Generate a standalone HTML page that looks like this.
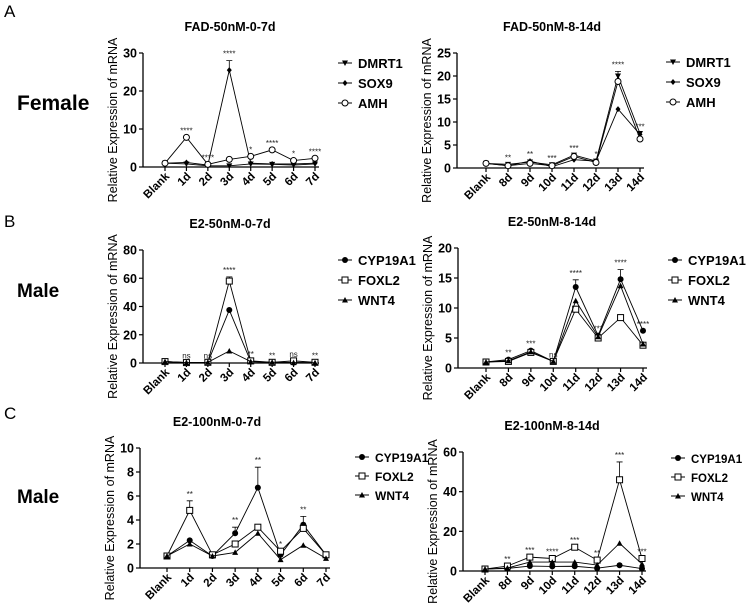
<!DOCTYPE html>
<html><head><meta charset="utf-8"><style>
body{margin:0;background:#fff;}
svg{display:block;font-family:"Liberation Sans",Arial,sans-serif;}
</style></head><body>
<svg id="fig" width="750" height="613" viewBox="0 0 750 613">
<text x="4" y="17" font-size="17">A</text>
<text x="17" y="110" font-size="21" font-weight="bold">Female</text>
<text x="4" y="227" font-size="17">B</text>
<text x="17" y="297" font-size="19" font-weight="bold">Male</text>
<text x="4" y="419" font-size="17">C</text>
<text x="17" y="503" font-size="19" font-weight="bold">Male</text>
</svg>
<script>
const catsA = ["Blank","1d","2d","3d","4d","5d","6d","7d"];
const catsB = ["Blank","8d","9d","10d","11d","12d","13d","14d"];
const genesF = ["DMRT1","SOX9","AMH"];
const genesM = ["CYP19A1","FOXL2","WNT4"];

const a1Ticks = [0,10,20,30];
const a1DMRT1 = [1,0.8,0.3,0.3,0.8,0.7,0.5,0.8];
const a1SOX9 = [1,1.2,0.5,25.5,1,0.8,0.8,1];
const a1AMH = [1,7.8,0.7,2,2.8,4.5,1.7,2.3];
const a1Err = [0,0,0,2.5,0,0,0,0];
const a1Stars = ["","****","****","****","*","****","*","****"];

const a2Ticks = [0,5,10,15,20,25];
const a2DMRT1 = [1,0.8,1.3,0.7,2.8,1.5,20,7.5];
const a2SOX9 = [1,0.5,1.5,0.3,1.8,1.5,12.8,7.3];
const a2AMH = [1,0.5,1,0.5,2.5,1.2,18.8,6.3];
const a2Err = [0,0,0,0,0,0,1,0];
const a2Stars = ["","**","**","***","***","*","****","***"];

const b1Ticks = [0,20,40,60,80];
const b1CYP = [1,0.3,0.5,37.5,1,0.5,0.3,0.2];
const b1FOXL2 = [1,0.3,0.5,58,1.5,0.5,1.5,0.5];
const b1WNT4 = [1,0.3,0.5,8.5,1,0.5,0.3,0.2];
const b1Err = [0,0,0,3,0,0,0,0];
const b1Stars = ["","ns","ns","****","**","**","ns","**"];

const b2Ticks = [0,5,10,15,20];
const b2CYP = [1,1.4,2.9,1.1,13.5,5.4,14.8,6.2];
const b2FOXL2 = [1,1.1,2.6,1.1,9.8,5,8.4,3.8];
const b2WNT4 = [1,1.2,2.7,1.1,11.2,5.2,13.7,4];
const b2Err = [0,0,0,0,1.2,0,1.6,0];
const b2Stars = ["","**","***","ns","****","***","****","****"];

const c1Ticks = [0,2,4,6,8,10];
const c1CYP = [1,2.3,1,2.9,6.7,1.1,3.6,1.1];
const c1FOXL2 = [1,4.8,1.1,2,3.4,1.4,3.3,1.1];
const c1WNT4 = [1,2,1,1.3,2.9,0.7,1.9,0.8];
const c1Err = [0,0.8,0,0.5,1.7,0,0.7,0];
const c1Stars = ["","**","","**","**","*","**",""];

const c2Ticks = [0,20,40,60];
const c2CYP = [1,1.3,2.5,2.3,2.4,1.4,2.9,1.2];
const c2FOXL2 = [1,2.5,7,6.3,12,5.5,46,6.3];
const c2WNT4 = [1,1.5,4.5,4.5,4.5,3,14,3.5];
const c2Err = [0,0,0,0,0,0,9,0];
const c2Stars = ["","**","***","****","***","**","***","***"];

const NS="http://www.w3.org/2000/svg";
const svg=document.getElementById('fig');
function mk(tag,attrs,parent){const e=document.createElementNS(NS,tag);for(const k in attrs)e.setAttribute(k,attrs[k]);(parent||svg).appendChild(e);return e;}

function marker(g,type,x,y){
  let e;
  if(type==="tri-down"){e=mk('path',{d:`M${x-3},${y-2.5} L${x+3},${y-2.5} L${x},${y+3} Z`,fill:'#000'},g);}
  else if(type==="diamond"){e=mk('path',{d:`M${x},${y-3} L${x+2.5},${y} L${x},${y+3} L${x-2.5},${y} Z`,fill:'#000'},g);}
  else if(type==="open-circle"){e=mk('circle',{cx:x,cy:y,r:3,fill:'#fff',stroke:'#000','stroke-width':1},g);}
  else if(type==="circle"){e=mk('circle',{cx:x,cy:y,r:3,fill:'#000'},g);}
  else if(type==="open-square"){e=mk('rect',{x:x-3,y:y-3,width:6,height:6,fill:'#fff',stroke:'#000','stroke-width':1},g);}
  else {e=mk('path',{d:`M${x},${y-3} L${x+3},${y+2.5} L${x-3},${y+2.5} Z`,fill:'#000'},g);}
  return e;
}

function chart(cfg){
  const g=mk('g',{});
  
  
  const {ax,y0,y1,x0,x1,ticks,cats}=cfg;
  const max=ticks[ticks.length-1];
  const ys=v=>y0-(v/max)*(y0-y1);
  const xs=i=>x0+i*(x1-x0)/(cats.length-1);
  const t=mk('text',{x:cfg.tx,y:y1-22,'font-size':12.5,'font-weight':'bold','text-anchor':'middle'},g);
  t.textContent=cfg.title;
  
  
  const yt=mk('text',{transform:`translate(${ax-26},${(y0+y1)/2+10}) rotate(-90)`,'font-size':12.5,'text-anchor':'middle'},g);
  yt.textContent="Relative Expression of mRNA";
  
  
  const ya=mk('line',{x1:ax,y1:y1,x2:ax,y2:y0,stroke:'#000','stroke-width':1.3},g);
  
  
  const xa=mk('line',{x1:ax,y1:y0,x2:x1+4,y2:y0,stroke:'#000','stroke-width':1.3},g);
  
  
  ticks.forEach(v=>{
    mk('line',{x1:ax-4,y1:ys(v),x2:ax,y2:ys(v),stroke:'#000','stroke-width':1.2},g);
    const tl=mk('text',{x:ax-6,y:ys(v)+4.5,'font-size':12.5,'font-weight':'bold','text-anchor':'end'},g);
    tl.textContent=v;
    
    
  });
  cats.forEach((c,i)=>{
    mk('line',{x1:xs(i),y1:y0,x2:xs(i),y2:y0+4,stroke:'#000','stroke-width':1.2},g);
    const cl=mk('text',{transform:`translate(${xs(i)+5},${y0+10}) rotate(-45)`,'font-size':11.5,'font-weight':'bold','text-anchor':'end'},g);
    cl.textContent=c;
    
    
  });
  cfg.err.forEach((e,i)=>{
    if(e>0){
      const top=Math.max(...cfg.series.map(s=>s.vals[i]));
      const eb=mk('path',{d:`M${xs(i)},${ys(top)} V${ys(top+e)} M${xs(i)-3},${ys(top+e)} H${xs(i)+3}`,stroke:'#000','stroke-width':0.8,fill:'none'},g);
      
      
    }
  });
  cfg.series.forEach(s=>{
    const pts=s.vals.map((v,i)=>xs(i)+','+ys(v)).join(' ');
    const pl=mk('polyline',{points:pts,fill:'none',stroke:'#000','stroke-width':0.9},g);
    
    
    s.vals.forEach((v,i)=>{
      const m=marker(g,s.m,xs(i),ys(v));
      
      
    });
  });
  cfg.stars.forEach((st,i)=>{
    if(!st)return;
    const top=Math.max(...cfg.series.map(s=>s.vals[i]))+cfg.err[i];
    const sl=mk('text',{x:xs(i),y:ys(top)-4,'font-size':8,'text-anchor':'middle',fill:'#222'},g);
    sl.textContent=st;
    
    
  });
  cfg.series.forEach((s,k)=>{
    const ly=cfg.ly+k*cfg.lgap;
    const lg=mk('g',{},g);
    
    
    mk('line',{x1:cfg.lx-7,y1:ly,x2:cfg.lx+7,y2:ly,stroke:'#000','stroke-width':1},lg);
    marker(lg,s.m,cfg.lx,ly);
    const lt=mk('text',{x:cfg.lx+13,y:ly+5,'font-size':cfg.lfs,'font-weight':'bold'},lg);
    lt.textContent=s.name;
  });
}

const mF=["tri-down","diamond","open-circle"], mM=["circle","open-square","tri"];
chart({name:'chart-fad-50nm-0-7d',title:'FAD-50nM-0-7d',ax:143,y0:167,y1:53,x0:165,x1:315,tx:230,ticks:a1Ticks,cats:catsA,err:a1Err,stars:a1Stars,lx:345,ly:63,lgap:20,lfs:13,
  series:[{name:genesF[0],vals:a1DMRT1,m:mF[0]},{name:genesF[1],vals:a1SOX9,m:mF[1]},{name:genesF[2],vals:a1AMH,m:mF[2]}]});
chart({name:'chart-fad-50nm-8-14d',title:'FAD-50nM-8-14d',ax:457,y0:168,y1:53,x0:486,x1:640,tx:552,ticks:a2Ticks,cats:catsB,err:a2Err,stars:a2Stars,lx:673,ly:62,lgap:20,lfs:13,
  series:[{name:genesF[0],vals:a2DMRT1,m:mF[0]},{name:genesF[1],vals:a2SOX9,m:mF[1]},{name:genesF[2],vals:a2AMH,m:mF[2]}]});
chart({name:'chart-e2-50nm-0-7d',title:'E2-50nM-0-7d',ax:143,y0:363,y1:250,x0:165,x1:315,tx:230,ticks:b1Ticks,cats:catsA,err:b1Err,stars:b1Stars,lx:345,ly:260,lgap:20,lfs:13,
  series:[{name:genesM[0],vals:b1CYP,m:mM[0]},{name:genesM[1],vals:b1FOXL2,m:mM[1]},{name:genesM[2],vals:b1WNT4,m:mM[2]}]});
chart({name:'chart-e2-50nm-8-14d',title:'E2-50nM-8-14d',ax:458,y0:368,y1:248,x0:486,x1:643,tx:552,ticks:b2Ticks,cats:catsB,err:b2Err,stars:b2Stars,lx:675,ly:260,lgap:20,lfs:13,
  series:[{name:genesM[0],vals:b2CYP,m:mM[0]},{name:genesM[1],vals:b2FOXL2,m:mM[1]},{name:genesM[2],vals:b2WNT4,m:mM[2]}]});
chart({name:'chart-e2-100nm-0-7d',title:'E2-100nM-0-7d',ax:140,y0:568,y1:448,x0:167,x1:326,tx:217,ticks:c1Ticks,cats:catsA,err:c1Err,stars:c1Stars,lx:362,ly:457,lgap:19,lfs:12,
  series:[{name:genesM[0],vals:c1CYP,m:mM[0]},{name:genesM[1],vals:c1FOXL2,m:mM[1]},{name:genesM[2],vals:c1WNT4,m:mM[2]}]});
chart({name:'chart-e2-100nm-8-14d',title:'E2-100nM-8-14d',ax:463,y0:571,y1:452,x0:485,x1:642,tx:552,ticks:c2Ticks,cats:catsB,err:c2Err,stars:c2Stars,lx:678,ly:458,lgap:19,lfs:11.5,
  series:[{name:genesM[0],vals:c2CYP,m:mM[0]},{name:genesM[1],vals:c2FOXL2,m:mM[1]},{name:genesM[2],vals:c2WNT4,m:mM[2]}]});
</script>
</body></html>
